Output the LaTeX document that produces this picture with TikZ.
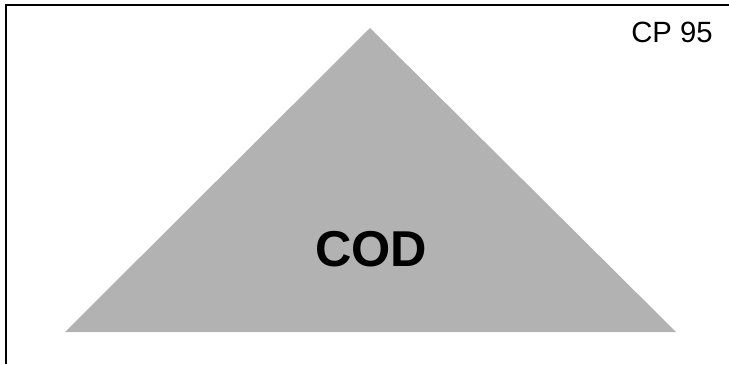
\documentclass[tikz,border=0pt]{standalone}
\usepackage{fontspec}
\setmainfont{Liberation Sans}
\usepackage{tikz}
\usetikzlibrary{positioning}

\begin{document}
\begin{tikzpicture}[
    x=0.03cm, y=-0.03cm,
    frame/.style={line width=1pt, black},
    tri/.style={fill=black!30, draw=none},
    bigtext/.style={font=\fontsize{43}{47}\selectfont\bfseries, inner sep=0pt},
    tagtext/.style={font=\fontsize{25}{28}\selectfont, inner sep=0pt}
]
\useasboundingbox (0,0) rectangle (729,364);

% scan frame (top and left only)
\coordinate (corner) at (6,5);
\draw[frame] (729,5) -- (corner) -- (6,364);

% the triangle
\coordinate (apex) at (370,28);
\coordinate (left) at (65,332);
\coordinate (right) at (676,332);
\fill[tri] (left) -- (apex) -- (right) -- cycle;

\node[bigtext] (cod) at (371,249) {COD};
\node[tagtext] (cp) at (672,32) {CP 95};

\end{tikzpicture}
\end{document}
